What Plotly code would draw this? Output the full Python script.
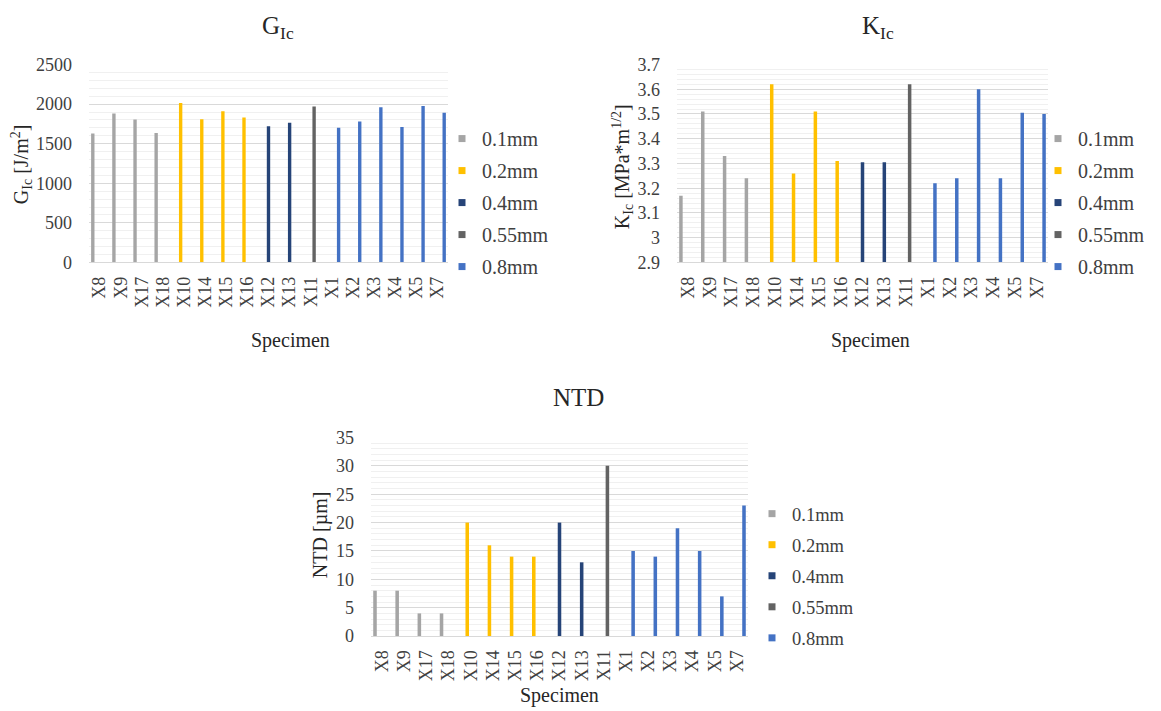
import plotly.graph_objects as go

specimens = ["X8", "X9", "X17", "X18", "X10", "X14", "X15", "X16", "X12", "X13",
             "X11", "X1", "X2", "X3", "X4", "X5", "X7"]
thickness = ["0.1mm"] * 4 + ["0.2mm"] * 4 + ["0.4mm"] * 2 + ["0.55mm"] + ["0.8mm"] * 6
groups = ["0.1mm", "0.2mm", "0.4mm", "0.55mm", "0.8mm"]
colors = ["#A5A5A5", "#FFC000", "#264478", "#636363", "#4472C4"]

g_ic = [1630, 1880, 1805, 1635, 2015, 1810, 1910, 1830, 1720, 1765,
        1970, 1700, 1780, 1960, 1710, 1975, 1890]
k_ic = [3.17, 3.51, 3.33, 3.24, 3.62, 3.26, 3.51, 3.31, 3.305, 3.305,
        3.62, 3.22, 3.24, 3.60, 3.24, 3.505, 3.50]
ntd = [8, 8, 4, 4, 20, 16, 14, 14, 20, 13, 30, 15, 14, 19, 15, 7, 23]

W, H = 1161, 711
FONT = "Liberation Serif"
TXT = "#404040"


def px(x):
    return x / W


def py(y):
    # compensate the vertical placement observed in the rendered page
    return 1 - ((y - 9.8) / 0.972) / H


fig = go.Figure()

panels = [
    (g_ic, "", "legend", (89, 448), (64.3, 262.3), [0, 2500], 500, 100),
    (k_ic, "2", "legend2", (677, 1048), (64.3, 262.3), [2.9, 3.7], 0.1, 0.02),
    (ntd, "3", "legend3", (371, 748), (437.3, 636), [0, 35], 5, 1),
]

layout = dict(
    width=W, height=H, autosize=False,
    margin=dict(l=0, r=0, t=0, b=0),
    paper_bgcolor="white", plot_bgcolor="white",
    barmode="group", bargap=0.2, bargroupgap=0,
    font=dict(family=FONT, color=TXT, size=18),
    showlegend=True,
)

for pi, (vals, sfx, leg, xd, yd, rng, dt, mn) in enumerate(panels):
    xa = "x" + sfx
    ya = "y" + sfx
    for g, c in zip(groups, colors):
        yv = [v if t == g else None for v, t in zip(vals, thickness)]
        fig.add_trace(go.Bar(
            x=specimens, y=yv, name=g, marker_color=c, marker_line_width=0,
            xaxis=xa, yaxis=ya, showlegend=False, hoverinfo="x+y",
        ))
        fig.add_trace(go.Scatter(
            x=[None], y=[None], mode="markers", name=g,
            marker=dict(symbol="square", size=7, color=c),
            xaxis=xa, yaxis=ya, legend=leg, legendgroup=f"{leg}_{g}",
            showlegend=True,
        ))
    layout["xaxis" + sfx] = dict(
        domain=[px(xd[0]), px(xd[1])], anchor=ya,
        type="category", categoryorder="array", categoryarray=specimens,
        tickmode="array", tickvals=specimens, ticktext=specimens,
        tickangle=-90, ticks="", showgrid=False, zeroline=False,
        showline=True, linecolor="#D9D9D9", linewidth=1,
        tickfont=dict(family=FONT, size=18, color=TXT),
        ticklabelstandoff=6,
    )
    layout["yaxis" + sfx] = dict(
        domain=[py(yd[1]), py(yd[0])], anchor=xa,
        range=rng, dtick=dt, tick0=rng[0], ticks="",
        showgrid=True, gridcolor="#D9D9D9", gridwidth=1,
        zeroline=False, showline=False,
        minor=dict(dtick=mn, tick0=rng[0], showgrid=True, gridcolor="#F0F0F0", gridwidth=1),
        tickfont=dict(family=FONT, size=18, color=TXT),
        ticklabelstandoff=16,
    )

leg_common = dict(
    bgcolor="rgba(0,0,0,0)", borderwidth=0,
    traceorder="grouped", itemsizing="trace",
    xanchor="left", yanchor="middle",
)
layout["legend"] = dict(leg_common, x=px(442), y=py(202.4), tracegroupgap=3,
                        font=dict(family=FONT, size=20, color=TXT))
layout["legend2"] = dict(leg_common, x=px(1038), y=py(202.4), tracegroupgap=3,
                         font=dict(family=FONT, size=20, color=TXT))
layout["legend3"] = dict(leg_common, x=px(752), y=py(576), tracegroupgap=4,
                         font=dict(family=FONT, size=18.5, color=TXT))

ann = []
titles = [("G<sub>Ic</sub>", 278, 27), ("K<sub>Ic</sub>", 878, 27), ("NTD", 578, 397)]
for t, x, y in titles:
    ann.append(dict(text=t, x=px(x), y=py(y), xref="paper", yref="paper",
                    showarrow=False, xanchor="center", yanchor="middle",
                    font=dict(family=FONT, size=25, color="#262626")))
ytitles = [("G<sub>Ic</sub> [J/m<sup>2</sup>]", 22, 164),
           ("K<sub>Ic</sub> [MPa*m<sup>1/2</sup>]", 623, 167),
           ("NTD [µm]", 320, 535)]
for t, x, y in ytitles:
    ann.append(dict(text=t, x=px(x), y=py(y), xref="paper", yref="paper",
                    showarrow=False, xanchor="center", yanchor="middle", textangle=-90,
                    font=dict(family=FONT, size=20, color="#262626")))
xtitles = [("Specimen", 290, 340), ("Specimen", 870, 340), ("Specimen", 559, 695)]
for t, x, y in xtitles:
    ann.append(dict(text=t, x=px(x), y=py(y), xref="paper", yref="paper",
                    showarrow=False, xanchor="center", yanchor="middle",
                    font=dict(family=FONT, size=20, color="#262626")))
layout["annotations"] = ann

fig.update_layout(**layout)
fig.write_html("out.html", config={"displayModeBar": False},
               post_script="document.body.style.margin='0';document.body.style.overflow='hidden';")
